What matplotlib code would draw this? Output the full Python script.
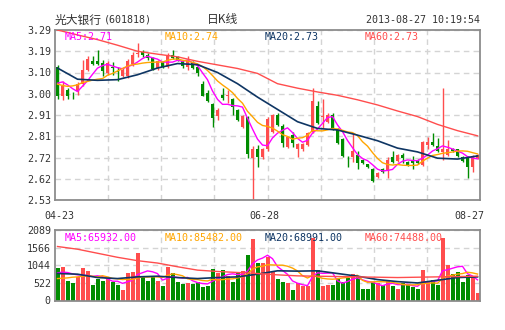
import matplotlib
matplotlib.use("Agg")
import matplotlib.pyplot as plt
import numpy as np
import pandas as pd

# ---------------- data ----------------
x_labels = ["04-23", "06-28", "08-27"]
price_ticks = ["3.29", "3.19", "3.10", "3.00", "2.91", "2.81", "2.72", "2.62", "2.53"]
vol_ticks = ["2089", "1566", "1044", "522", "0"]

open_ = [3.123, 2.996, 3.023, 3.001, 3.016, 3.049, 3.113, 3.153, 3.153, 3.142,
         3.098, 3.124, 3.106, 3.085, 3.085, 3.138, 3.183, 3.192, 3.180, 3.165,
         3.120, 3.145, 3.123, 3.177, 3.168, 3.150, 3.123, 3.145, 3.123, 3.049,
         3.008, 2.959, 2.907, 3.001, 2.994, 2.982, 2.934, 2.856, 2.900, 2.718,
         2.756, 2.721, 2.756, 2.836, 2.910, 2.861, 2.768, 2.821, 2.756, 2.756,
         2.776, 2.836, 2.950, 2.900, 2.880, 2.910, 2.846, 2.801, 2.710, 2.721,
         2.731, 2.709, 2.689, 2.669, 2.634, 2.669, 2.661, 2.721, 2.704, 2.731,
         2.701, 2.706, 2.705, 2.686, 2.776, 2.788, 2.771, 2.746, 2.731, 2.758,
         2.756, 2.721, 2.721, 2.679, 2.716]
close = [2.993, 3.040, 2.993, 2.999, 3.049, 3.113, 3.160, 3.138, 3.138, 3.105,
         3.142, 3.121, 3.103, 3.112, 3.152, 3.180, 3.187, 3.180, 3.165, 3.117,
         3.150, 3.123, 3.177, 3.165, 3.158, 3.128, 3.150, 3.120, 3.098, 2.997,
         2.974, 2.897, 2.934, 2.986, 2.999, 2.946, 2.889, 2.907, 2.736, 2.758,
         2.721, 2.756, 2.892, 2.910, 2.865, 2.786, 2.810, 2.786, 2.780, 2.780,
         2.828, 2.973, 2.876, 2.906, 2.910, 2.850, 2.786, 2.727, 2.708, 2.749,
         2.697, 2.697, 2.679, 2.617, 2.649, 2.657, 2.709, 2.701, 2.731, 2.719,
         2.686, 2.697, 2.696, 2.788, 2.788, 2.776, 2.749, 2.758, 2.758, 2.749,
         2.727, 2.706, 2.679, 2.727, 2.731]
high = [3.132, 3.060, 3.030, 3.015, 3.057, 3.157, 3.175, 3.172, 3.200, 3.157,
        3.150, 3.145, 3.123, 3.118, 3.160, 3.190, 3.232, 3.200, 3.185, 3.170,
        3.155, 3.150, 3.185, 3.202, 3.175, 3.152, 3.175, 3.150, 3.130, 3.060,
        3.020, 2.962, 2.940, 3.031, 3.023, 2.985, 2.938, 2.912, 2.905, 2.770,
        2.776, 2.762, 2.902, 2.916, 2.920, 2.870, 2.815, 2.836, 2.785, 2.785,
        2.832, 3.029, 2.973, 2.980, 2.917, 2.920, 2.850, 2.805, 2.727, 2.828,
        2.751, 2.712, 2.692, 2.672, 2.655, 2.675, 2.721, 2.749, 2.736, 2.742,
        2.705, 2.727, 2.712, 2.792, 2.810, 2.828, 2.806, 3.029, 2.798, 2.762,
        2.760, 2.725, 2.725, 2.732, 2.736]
low = [2.983, 2.979, 2.980, 2.980, 2.999, 3.040, 3.105, 3.135, 3.135, 3.086,
       3.090, 3.090, 3.060, 3.080, 3.075, 3.130, 3.168, 3.170, 3.157, 3.110,
       3.110, 3.118, 3.118, 3.160, 3.150, 3.122, 3.112, 3.115, 3.086, 2.994,
       2.968, 2.856, 2.889, 2.976, 2.964, 2.909, 2.885, 2.850, 2.718, 2.530,
       2.679, 2.715, 2.750, 2.830, 2.860, 2.768, 2.762, 2.768, 2.721, 2.750,
       2.770, 2.828, 2.870, 2.850, 2.873, 2.843, 2.780, 2.722, 2.679, 2.701,
       2.667, 2.690, 2.675, 2.612, 2.628, 2.650, 2.627, 2.697, 2.700, 2.694,
       2.680, 2.667, 2.690, 2.682, 2.756, 2.770, 2.745, 2.709, 2.727, 2.745,
       2.722, 2.700, 2.627, 2.657, 2.712]
volume = [976, 995, 581, 532, 709, 976, 887, 463, 631, 591,
          631, 542, 463, 315, 818, 847, 1409, 729, 581, 690,
          581, 443, 995, 828, 562, 503, 532, 503, 562, 414,
          443, 936, 828, 907, 729, 552, 828, 877, 1360, 1823,
          1123, 1100, 1300, 850, 650, 550, 530, 320, 510, 430,
          420, 1850, 900, 420, 460, 470, 660, 560, 660, 790,
          700, 350, 330, 540, 520, 450, 600, 440, 340, 520,
          500, 400, 350, 900, 570, 620, 470, 1850, 1050, 790,
          830, 550, 750, 700, 230]

# moving averages: first values (earlier history not shown)
ma5_head = [3.052, 3.058, 3.045, 3.028]
ma10_head = [3.048, 3.042, 3.038, 3.040, 3.045, 3.055, 3.060, 3.066, 3.070]
ma_sample_idx = [0, 4, 8, 12, 16, 20, 24, 28, 32, 36, 40, 44, 48, 52, 56, 60, 64, 68, 72, 76, 80, 84]
ma20_price = [3.120, 3.070, 3.065, 3.068, 3.090, 3.120, 3.140, 3.135, 3.100, 3.050, 2.990,
              2.935, 2.880, 2.850, 2.843, 2.820, 2.795, 2.762, 2.745, 2.717, 2.713, 2.727]
ma60_price = [3.290, 3.268, 3.247, 3.222, 3.195, 3.182, 3.170, 3.150, 3.134, 3.118, 3.096,
              3.050, 3.030, 3.013, 2.998, 2.978, 2.955, 2.928, 2.903, 2.868, 2.840, 2.817]
vma5_head = [820, 840, 830, 790]
vma10_head = [650, 660, 670, 690, 700, 720, 730, 720, 700]
vma20 = [800, 780, 680, 650, 700, 720, 680, 650, 680, 700, 780,
         880, 870, 880, 800, 720, 620, 560, 520, 600, 680, 700]
vma60 = [1600, 1520, 1400, 1280, 1180, 1110, 1000, 900, 860, 830, 800,
         760, 730, 720, 710, 700, 690, 680, 690, 700, 710, 720]

legend_price = ["MA5:2.71", "MA10:2.74", "MA20:2.73", "MA60:2.73"]
legend_vol = ["MA5:65932.00", "MA10:85482.00", "MA20:68991.00", "MA60:74488.00"]
title_name = "光大银行"
title_code = "(601818)"
title_kind = "日K线"
timestamp = "2013-08-27 10:19:54"

# ---------------- style ----------------
UP = "#ff4d4d"
DOWN = "#008c00"
C_MA5 = "#ff00ff"
C_MA10 = "#ffa500"
C_MA20 = "#0e3563"
C_MA60 = "#ff4d4d"
GRID = "#d4d4d4"
FRAME = "#8c8c8c"
TXT = "#333333"
MONO = "DejaVu Sans Mono"

W, H = 505, 330
fig = plt.figure(figsize=(W / 100, H / 100), dpi=100)
fig.patch.set_facecolor("white")

def px_axes(left, top, right, bottom):
    return fig.add_axes([left / W, 1 - bottom / H, (right - left) / W, (bottom - top) / H])

ax = px_axes(55, 30, 480, 200)
axv = px_axes(55, 230, 480, 300.5)

n = len(close)
xs = np.arange(n)
o = np.array(open_); c = np.array(close); hi = np.array(high); lo = np.array(low)
v = np.array(volume)
up = c >= o
colors = np.where(up, UP, DOWN)

def rolling_with_head(vals, win, head):
    r = pd.Series(vals, dtype=float).rolling(win).mean().to_numpy()
    r[:len(head)] = head
    return r

ma5 = rolling_with_head(c, 5, ma5_head)
ma10 = rolling_with_head(c, 10, ma10_head)
vma5 = rolling_with_head(v, 5, vma5_head)
vma10 = rolling_with_head(v, 10, vma10_head)

grid_x = -0.5 + np.arange(1, 8) * n / 8

for a in (ax, axv):
    a.set_xlim(-0.5, n - 0.5)
    for s in a.spines.values():
        s.set_color(FRAME)
        s.set_linewidth(1.3)
    a.set_xticks(grid_x)
    a.tick_params(length=0, labelbottom=False)
    a.grid(True, color=GRID, linestyle=(0, (4, 3)), linewidth=1)
    a.set_axisbelow(True)

# price panel
ax.vlines(xs, lo, hi, colors=colors, linewidth=1, zorder=2)
body_bottom = np.minimum(o, c)
body_h = np.maximum(np.abs(c - o), 0.0018)
ax.bar(xs, body_h, bottom=body_bottom, width=0.76, color=colors, linewidth=0, zorder=3)
ax.plot(xs, ma5, color=C_MA5, lw=1, zorder=4)
ax.plot(xs, ma10, color=C_MA10, lw=1, zorder=4)
ax.plot(ma_sample_idx, ma20_price, color=C_MA20, lw=1.2, zorder=4)
ax.plot(ma_sample_idx, ma60_price, color=C_MA60, lw=1, zorder=4)
ax.set_ylim(2.53, 3.29)
ax.set_yticks(np.linspace(3.29, 2.53, 9))
ax.set_yticklabels(price_ticks, family=MONO, fontsize=7.2, color=TXT)
ax.tick_params(axis="y", pad=3)

# volume panel
axv.bar(xs, v, width=0.8, color=colors, linewidth=0, zorder=2)
axv.plot(xs, vma5, color=C_MA5, lw=1, zorder=3)
axv.plot(xs, vma10, color=C_MA10, lw=1, zorder=3)
axv.plot(ma_sample_idx, vma20, color=C_MA20, lw=1.2, zorder=3)
axv.plot(ma_sample_idx, vma60, color=C_MA60, lw=1, zorder=3)
axv.set_ylim(0, 2089)
axv.set_yticks(np.linspace(2089, 0, 5))
axv.set_yticklabels(vol_ticks, family=MONO, fontsize=7.2, color=TXT)
axv.tick_params(axis="y", pad=3)

def ftext(x, y, s, **kw):
    fig.text(x / W, 1 - y / H, s, va="center", **kw)

leg_colors = [C_MA5, C_MA10, C_MA20, C_MA60]
for k in range(4):
    ftext(65 + 100 * k, 37, legend_price[k], family=MONO, fontsize=7.2, color=leg_colors[k])
    ftext(65 + 100 * k, 238, legend_vol[k], family=MONO, fontsize=7.2, color=leg_colors[k])

ftext(55, 20, title_name, family=["Noto Sans CJK SC", "DejaVu Sans"], fontsize=8.5, color=TXT)
ftext(104, 20, title_code, family=MONO, fontsize=7.2, color=TXT)
ftext(207, 20, title_kind, family=["Noto Sans CJK SC", "DejaVu Sans"], fontsize=8.5, color=TXT)
ftext(480, 20, timestamp, family=MONO, fontsize=7.2, color=TXT, ha="right")

label_px = [59.5, 264.5, 469.5]
for s, xp in zip(x_labels, label_px):
    ftext(xp, 216, s, family=MONO, fontsize=7.2, color=TXT, ha="center")

fig.savefig("out.png", dpi=100)
